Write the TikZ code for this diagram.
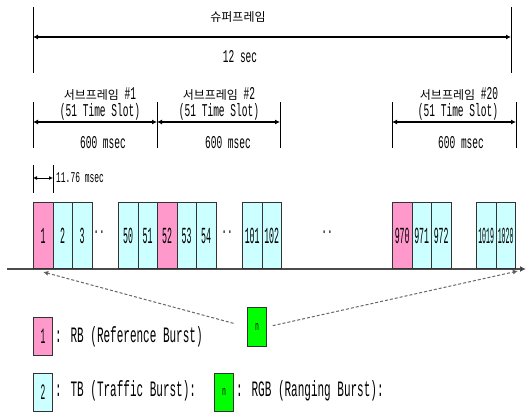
\documentclass[tikz,border=0pt]{standalone}
\usepackage{fontspec}
\usepackage{graphicx}
\setmainfont[FakeStretch=0.53]{Liberation Mono}
\newfontfamily\narrowf[FakeStretch=0.36]{Liberation Mono}
\newfontfamily\legf[FakeStretch=0.5]{Liberation Mono}
\newfontfamily\kr{Noto Sans CJK KR}
\usetikzlibrary{arrows.meta}
\definecolor{rbpink}{HTML}{FF99CC}
\definecolor{tbcyan}{HTML}{CCFFFF}
\definecolor{rgbgreen}{HTML}{00FF00}
\tikzset{
  slot/.style={draw=black!80, line width=0.9pt, minimum width=19.5pt, minimum height=66pt,
    inner sep=0pt, anchor=south west, font=\narrowf\fontsize{23}{23}\selectfont},
  rb/.style={slot, fill=rbpink},
  tb/.style={slot, fill=tbcyan},
  lgbox/.style={draw=black!80, line width=0.9pt, minimum width=19pt, minimum height=38pt,
    inner sep=0pt, anchor=north west, font=\narrowf\fontsize{22}{22}\selectfont},
  nbox/.style={lgbox, fill=rgbgreen, font=\legf\fontsize{13}{13}\selectfont},
  dimline/.style={line width=1.2pt, {Latex[length=5pt,width=5pt]}-{Latex[length=5pt,width=5pt]}},
  smalldim/.style={line width=1pt, {Latex[length=4pt,width=4pt]}-{Latex[length=4pt,width=4pt]}},
  tick/.style={line width=0.9pt},
  lbl/.style={font=\fontsize{18}{18}\selectfont, inner sep=0pt},
  krl/.style={font=\kr\fontsize{12}{12}\selectfont, inner sep=0pt},
  lgtext/.style={font=\legf\fontsize{22}{22}\selectfont, inner sep=0pt, anchor=west},
  dotsl/.style={font=\fontsize{18}{18}\selectfont, inner sep=0pt},
  guide/.style={draw=black!60, line width=1pt, dash pattern=on 3pt off 2pt, -{Latex[length=5pt,width=5pt,fill=black]}},
}
\begin{document}
\begin{tikzpicture}[x=1pt,y=-1pt]
\useasboundingbox (0,0) rectangle (527,412);

% ---- superframe
\coordinate (s0t) at (33,7);  \coordinate (s0b) at (33,73);
\coordinate (s1t) at (511,7); \coordinate (s1b) at (511,73);
\coordinate (s0m) at (33,37); \coordinate (s1m) at (511,37);
\draw[tick] (s0t) -- (s0b);
\draw[tick] (s1t) -- (s1b);
\draw[dimline] (s0m) -- (s1m);
\node[krl] (sftitle) at (238,17) {슈퍼프레임};
\node[lbl] (sftime) at (240,57) {12 sec};

% ---- subframes
\foreach \nm/\xa/\xb in {a/33/157, b/157/280, c/392/516}{
  \coordinate (\nm t0) at (\xa,102); \coordinate (\nm b0) at (\xa,148);
  \coordinate (\nm t1) at (\xb,102); \coordinate (\nm b1) at (\xb,148);
  \coordinate (\nm m0) at (\xa,122); \coordinate (\nm m1) at (\xb,122);
  \draw[tick] (\nm t0) -- (\nm b0);
  \draw[tick] (\nm t1) -- (\nm b1);
  \draw[dimline] (\nm m0) -- (\nm m1);
}
\node[lbl] (sa1) at (100,94) {{\kr\fontsize{12}{12}\selectfont 서브프레임} \#1};
\node[lbl] (sa2) at (100,112) {(51 Time Slot)};
\node[lbl] (sa3) at (103,143) {600 msec};
\node[lbl] (sb1) at (219,94) {{\kr\fontsize{12}{12}\selectfont 서브프레임} \#2};
\node[lbl] (sb2) at (219,112) {(51 Time Slot)};
\node[lbl] (sb3) at (228,143) {600 msec};
\node[lbl] (sc1) at (459,94) {{\kr\fontsize{12}{12}\selectfont 서브프레임} \#20};
\node[lbl] (sc2) at (458,112) {(51 Time Slot)};
\node[lbl] (sc3) at (461,143) {600 msec};

% ---- slot width
\coordinate (w0t) at (33,165); \coordinate (w0b) at (33,193);
\coordinate (w1t) at (53,165); \coordinate (w1b) at (53,193);
\coordinate (w0m) at (33,178); \coordinate (w1m) at (53,178);
\draw[tick] (w0t) -- (w0b);
\draw[tick] (w1t) -- (w1b);
\draw[smalldim] (w0m) -- (w1m);
\node[font=\fontsize{15}{15}\selectfont, inner sep=0pt, anchor=west] (wlbl) at (56,178) {11.76 msec};

% ---- time axis
\coordinate (ax0) at (7,269);
\coordinate (ax1) at (526,269);
\draw[black!70, line width=1.5pt, -{Latex[length=6pt,width=6pt,fill=black]}] (ax0) -- (ax1);

% ---- slots
\node[rb] (b1) at (33,269) {1};
\node[tb] (b2) at (52.5,269) {2};
\node[tb] (b3) at (72,269) {3};
\node[dotsl] (d1) at (99,232) {..};
\node[tb] (b50) at (118,269) {50};
\node[tb] (b51) at (137.5,269) {51};
\node[rb] (b52) at (157,269) {52};
\node[tb] (b53) at (176.5,269) {53};
\node[tb] (b54) at (196,269) {54};
\node[dotsl] (d2) at (227,232) {..};
\node[tb] (b101) at (242,269) {101};
\node[tb] (b102) at (261.5,269) {102};
\node[dotsl] (d3) at (327,232) {..};
\node[rb] (b970) at (392,269) {970};
\node[tb] (b971) at (411.5,269) {971};
\node[tb] (b972) at (431,269) {972};
\node[tb] (b1019) at (476,269) {\scalebox{0.8}[1]{1019}};
\node[tb] (b1020) at (495.5,269) {\scalebox{0.8}[1]{1020}};

% ---- ranging burst
\node[nbox, minimum height=39pt] (rgbn) at (247,307) {n};
\draw[guide, shorten <=14pt] (rgbn.west) -- ([yshift=-3pt]b1.south);
\draw[guide, shorten <=6pt] (rgbn.east) -- ([shift={(2pt,-2pt)}]b1020.south east);

% ---- legend
\node[lgbox, fill=rbpink] (lg1) at (33,317) {1};
\node[lgtext] (lg1t) at (55,337) {: RB (Reference Burst)};
\node[lgbox, fill=tbcyan] (lg2) at (33,373) {2};
\node[lgtext] (lg2t) at (55,391) {: TB (Traffic Burst):};
\node[nbox] (lg3) at (214,373) {n};
\node[lgtext] (lg3t) at (236,391) {: RGB (Ranging Burst):};
\end{tikzpicture}
\end{document}
